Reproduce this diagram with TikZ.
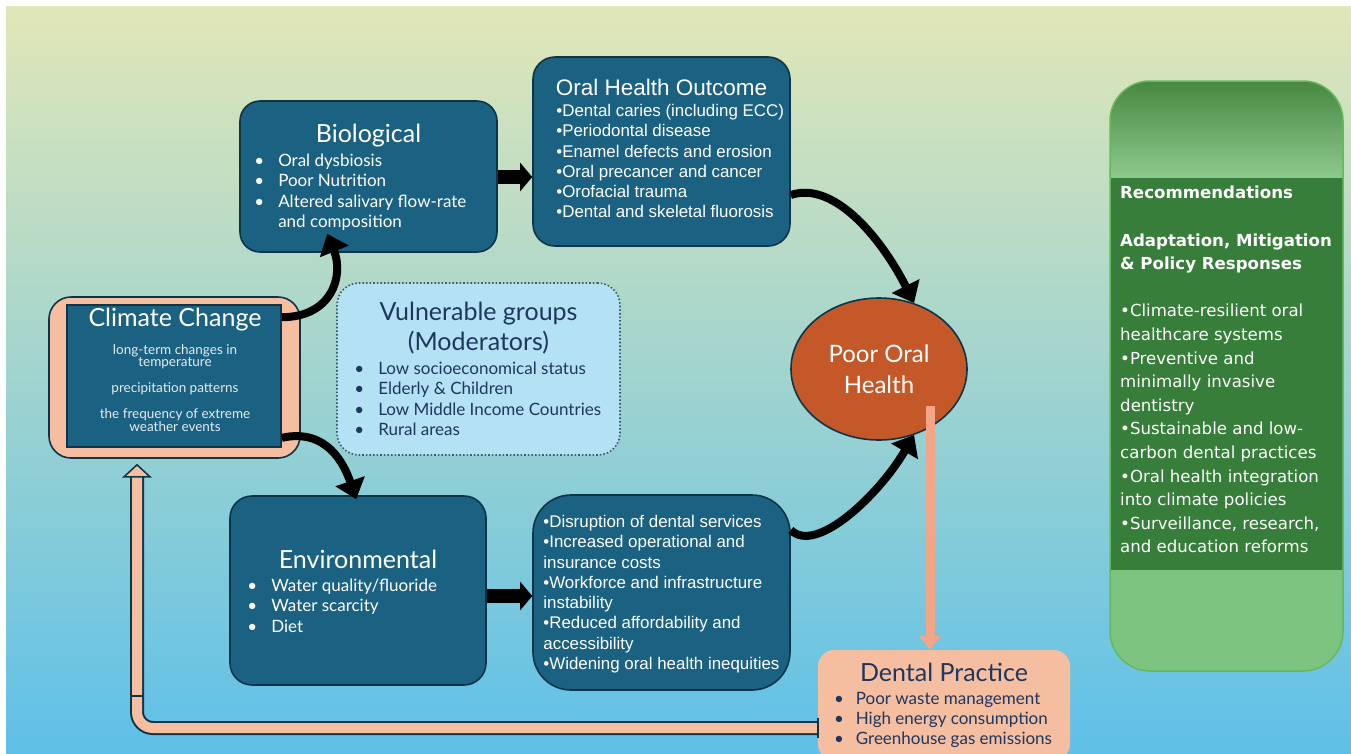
\documentclass[tikz,border=0pt]{standalone}
\usepackage{fontspec}
\setmainfont{Lato}
\newfontfamily\arialfont{Liberation Sans}
\newfontfamily\verdfont{DejaVu Sans}
\usetikzlibrary{positioning,arrows.meta,calc,shapes.geometric}

\definecolor{bgtop}{RGB}{225,231,183}
\definecolor{bgmid}{RGB}{160,212,205}
\definecolor{bgbot}{RGB}{94,192,232}
\definecolor{boxblue}{RGB}{27,97,130}
\definecolor{boxedge}{RGB}{14,52,72}
\definecolor{peach}{RGB}{245,190,160}
\definecolor{salmon}{RGB}{242,165,135}
\definecolor{skyfill}{RGB}{180,225,243}
\definecolor{navy}{RGB}{30,55,95}
\definecolor{rust}{RGB}{196,88,40}
\definecolor{recdark}{RGB}{55,126,58}
\definecolor{rectop}{RGB}{72,136,64}
\definecolor{recfade}{RGB}{140,201,140}
\definecolor{reclight}{RGB}{125,196,128}
\definecolor{recedge}{RGB}{100,186,90}

\newcommand{\fs}[2]{\fontsize{#1}{#2}\selectfont}
% bullet list with hanging text column
\newcommand{\blist}[2][14pt]{\begin{tabular}{@{}l@{\hspace{#1}}l@{}}#2\end{tabular}}

\begin{document}
\begin{tikzpicture}[x=1pt, y=-1pt,
  panel/.style={draw=boxedge, line width=1.6pt, fill=boxblue, rounded corners=20pt, inner sep=0pt},
  title/.style={text=white, font=\fs{25}{30}, align=center, inner sep=0pt},
  items/.style={text=white, font=\fs{17}{20.3}, anchor=north west, inner sep=0pt},
  ariallist/.style={text=white, font=\arialfont\fs{16.9}{20.25}, align=left, anchor=north west, inner sep=0pt},
  curvearr/.style={line width=8pt, -{Triangle[length=19pt, width=30pt]}},
  blockarr/.style={line width=14pt, -{Triangle[length=12pt, width=28pt]}},
  fbline/.style={rounded corners=16pt}]

\fill[white] (0,0) rectangle (1351,753);
\useasboundingbox (0,0) rectangle (1351,753);
\shade[top color=bgtop, middle color=bgmid, bottom color=bgbot] (6,6) rectangle (1351,753);

% main boxes
\node[panel, minimum width=257pt, minimum height=151pt] (bio) at (368.5,176.5) {};
\node[panel, minimum width=257pt, minimum height=189pt, rounded corners=22pt] (oho) at (661.5,151.5) {};
\node[panel, minimum width=256pt, minimum height=189pt, rounded corners=22pt] (env) at (358,590.5) {};
\node[panel, minimum width=257pt, minimum height=195pt, rounded corners=38pt] (disr) at (661.5,592.5) {};
\node[draw=boxedge, line width=1.6pt, fill=peach, rounded corners=22pt, inner sep=0pt,
  minimum width=251pt, minimum height=161pt] (clim) at (174.5,377.5) {};
\node[draw=boxedge, line width=1.6pt, fill=boxblue, inner sep=0pt,
  minimum width=214pt, minimum height=142pt] (climin) at (174,376) {};
\node[draw=boxedge!80, dotted, line width=1.6pt, fill=skyfill, rounded corners=22pt, inner sep=0pt,
  minimum width=283pt, minimum height=172pt] (vul) at (478.5,369) {};
\node[ellipse, draw=boxedge, line width=1.6pt, fill=rust, inner sep=0pt,
  minimum width=176pt, minimum height=142pt] (poor) at (879,369) {};
\node[fill=peach, rounded corners=16pt, inner sep=0pt,
  minimum width=252pt, minimum height=110pt] (dental) at (944,705) {};
\node[draw=recedge, line width=1.5pt, rounded corners=40pt, inner sep=0pt,
  minimum width=233pt, minimum height=590pt,
  path picture={
    \fill[recdark, sharp corners] (path picture bounding box.north west) rectangle (path picture bounding box.south east);
    \shade[top color=rectop, bottom color=recfade, sharp corners] (path picture bounding box.north west)
      rectangle ($(path picture bounding box.north east)+(0,96)$);
    \fill[reclight, sharp corners] ($(path picture bounding box.south west)+(0,-101)$) rectangle (path picture bounding box.south east);
  }] (rec) at (1226.5,376) {};

% box texts
\node[title] at ($(bio.north)+(0,35)$) {Biological};
\node[items] at ($(bio.north west)+(15,52)$) {\blist{\textbullet & Oral dysbiosis\\ \textbullet & Poor Nutrition\\
  \textbullet & Altered salivary flow-rate\\ & and composition}};

\node[title, font=\arialfont\fs{22.5}{27}] at ($(oho.north)+(0,31)$) {Oral Health Outcome};
\node[ariallist] at ($(oho.north west)+(24,48)$) {\textbullet Dental caries (including ECC)\\ \textbullet Periodontal disease\\
  \textbullet Enamel defects and erosion\\ \textbullet Oral precancer and cancer\\ \textbullet Orofacial trauma\\
  \textbullet Dental and skeletal fluorosis};

\node[title] at ($(climin.north)+(1,15)$) {Climate Change};
\node[text=white!88!boxblue, font=\fs{13.5}{12}, align=center, inner sep=0pt] at ($(climin.center)+(1,12)$)
  {long-term changes in\\temperature\\[13pt]precipitation patterns\\[13pt]the frequency of extreme\\weather events};

\node[title, text=navy] at ($(vul.north)+(0,46)$) {Vulnerable groups\\(Moderators)};
\node[items, text=navy] at ($(vul.north west)+(18,78)$) {\blist{\textbullet & Low socioeconomical status\\
  \textbullet & Elderly \& Children\\ \textbullet & Low Middle Income Countries\\ \textbullet & Rural areas}};

\node[title, font=\fs{24}{31}] at (poor.center) {Poor Oral\\Health};

\node[title] at ($(env.north)+(0,64)$) {Environmental};
\node[items] at ($(env.north west)+(18,82)$) {\blist{\textbullet & Water quality/fluoride\\
  \textbullet & Water scarcity\\ \textbullet & Diet}};

\node[ariallist] at ($(disr.north west)+(11,21)$) {\textbullet Disruption of dental services\\
  \textbullet Increased operational and\\ insurance costs\\ \textbullet Workforce and infrastructure\\ instability\\
  \textbullet Reduced affordability and\\ accessibility\\ \textbullet Widening oral health inequities};

\node[title, text=navy] at ($(dental.north)+(0,23)$) {Dental Practice};
\node[items, text=navy] at ($(dental.north west)+(16,40)$) {\blist[12pt]{\textbullet & Poor waste management\\
  \textbullet & High energy consumption\\ \textbullet & Greenhouse gas emissions}};

\node[text=white, font=\verdfont\fs{16.6}{23.6}, align=left, anchor=north west, inner sep=0pt] at (1120,186)
  {{\bfseries Recommendations}\\[23.6pt]
   {\bfseries Adaptation, Mitigation}\\
   {\bfseries \& Policy Responses}\\[23.6pt]
   \textbullet Climate-resilient oral\\ healthcare systems\\
   \textbullet Preventive and\\ minimally invasive\\ dentistry\\
   \textbullet Sustainable and low-\\ carbon dental practices\\
   \textbullet Oral health integration\\ into climate policies\\
   \textbullet Surveillance, research,\\ and education reforms};

% straight block arrows
\draw[blockarr] ($(bio.east)+(0,0.5)$) -- ($(bio.east -| oho.west)+(0,0.5)$);
\draw[blockarr] ($(env.east)+(0,5.5)$) -- ($(env.east -| disr.west)+(0,5.5)$);

% curved arrows
\draw[curvearr] ($(climin.north east)+(0,13)$) .. controls +(50,0) and +(17,42) .. ($(bio.south west)+(88,-19)$);
\draw[curvearr] ($(climin.south east)+(0,-10)$) .. controls +(45,-10) and +(-12,-35) .. ($(env.north west)+(127,4)$);
\draw[curvearr] ($(oho.east)+(0,43.5)$) .. controls +(45,-15) and +(-30,-60) .. (poor.62);
\draw[curvearr] ($(disr.east)+(0,-62.5)$) .. controls +(25,25) and +(-35,60) .. (poor.-62);

% poor oral health -> dental practice
\coordinate (dropstart) at ($(poor.center)+(51,37)$);
\draw[salmon, line width=9pt, -{Triangle[length=14pt, width=21pt]}] (dropstart) -- (dropstart |- dental.north);

% dental practice feeds back into climate change
\coordinate (fbstart) at ($(dental.west)+(0,23)$);
\coordinate (fbtip) at ($(clim.south)+(-37.5,6)$);
\coordinate (fbbase) at ($(fbtip)+(0,12)$);
\draw[fbline, boxedge, line width=14pt] (fbstart) -| (fbbase);
\draw[fbline, peach, line width=10pt] (fbstart) -| ($(fbbase)+(0,-1)$);
\filldraw[fill=peach, draw=boxedge, line width=1.5pt, line join=miter] (fbtip) -- ($(fbbase)+(13,0)$) -- ($(fbbase)+(-13,0)$) -- cycle;
\draw[boxedge, line width=2pt] ($(fbstart)+(0,-10)$) -- ($(fbstart)+(0,10)$);
\draw[boxedge, line width=1.5pt] ($(fbtip)+(-7,231)$) -- ($(fbtip)+(7,231)$);
\end{tikzpicture}
\end{document}
